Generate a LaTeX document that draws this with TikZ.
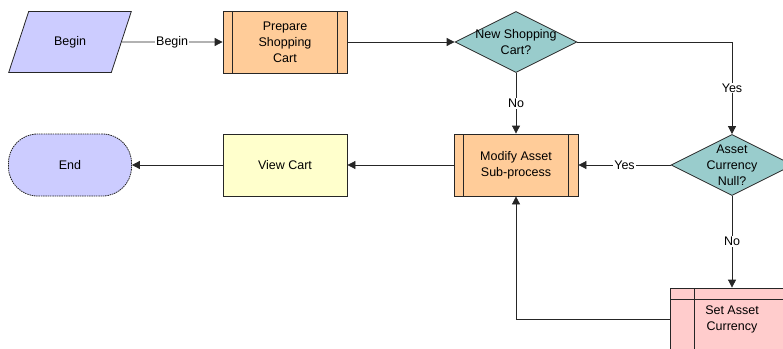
\documentclass[tikz,border=0pt]{standalone}
\usepackage{fontspec}
\setmainfont{Liberation Sans}
\usetikzlibrary{shapes.geometric,arrows.meta}

\definecolor{lavender}{HTML}{CCCCFF}
\definecolor{peach}{HTML}{FFCC99}
\definecolor{teal}{HTML}{99CCCC}
\definecolor{cream}{HTML}{FFFFCC}
\definecolor{rose}{HTML}{FFCCCC}

\tikzset{
  base/.style={draw=black!85, line width=0.8pt, align=center,
    font=\fontsize{12.5}{16}\selectfont},
  io/.style={base, trapezium, trapezium left angle=63, trapezium right angle=117,
    trapezium stretches=true, minimum width=123pt, minimum height=61pt, fill=lavender},
  terminal/.style={base, rectangle, rounded corners=29pt, dash pattern=on 1.5pt off 0.8pt,
    minimum width=123pt, minimum height=62pt, fill=lavender},
  subproc/.style={base, rectangle, minimum width=124pt, minimum height=62pt, fill=peach,
    path picture={
      \draw[line width=0.8pt] ([xshift=9.5pt]path picture bounding box.north west)
        -- ([xshift=9.5pt]path picture bounding box.south west);
      \draw[line width=0.8pt] ([xshift=-9.5pt]path picture bounding box.north east)
        -- ([xshift=-9.5pt]path picture bounding box.south east);}},
  decision/.style={base, diamond, inner sep=0pt, minimum width=122pt,
    minimum height=61pt, fill=teal},
  task/.style={base, rectangle, minimum width=124pt, minimum height=62pt, fill=cream},
  setbox/.style={base, rectangle, minimum width=124pt, minimum height=62pt, fill=rose,
    path picture={
      \draw[line width=0.8pt] ([xshift=24pt]path picture bounding box.north west)
        -- ([xshift=24pt]path picture bounding box.south west);
      \draw[line width=0.8pt] ([yshift=-11pt]path picture bounding box.north west)
        -- ([yshift=-11pt]path picture bounding box.north east);}},
  txt/.style={align=center, font=\fontsize{12.5}{16}\selectfont},
  flow/.style={draw=black!85, line width=0.8pt, ->},
  lbl/.style={fill=white, inner sep=1pt, font=\fontsize{12.5}{16}\selectfont}
}

\begin{document}
\begin{tikzpicture}[x=1pt, y=-1pt, >={Triangle[length=8pt,width=8pt]}]
    \clip (0,0) rectangle (783,348);
    % Top row
    \node[io] (begin) at (70,42) {Begin};
    \node[subproc] (prep) at (285,42) {Prepare\\Shopping\\Cart};
    \node[decision] (newcart) at (516,42) {};
    \node[txt] (newcarttxt) at (newcart) {New Shopping\\Cart?};
    % Middle row
    \node[terminal] (end) at (70,165) {End};
    \node[task] (view) at (285,165) {View Cart};
    \node[subproc] (modify) at (516,165) {Modify Asset\\Sub-process};
    \node[decision] (nullcur) at (732,165) {};
    \node[txt] (nullcurtxt) at (nullcur) {Asset\\Currency\\Null?};
    % Bottom
    \node[setbox] (setcur) at (732,319) {Set Asset\\Currency};
    % Connectors
    \draw[flow] (begin) -- node[lbl] {Begin} (prep);
    \draw[flow] (prep) -- (newcart.west);
    \draw[flow] (newcart.east) -| node[lbl, pos=0.75] {Yes} (nullcur.north);
    \draw[flow] (newcart.south) -- node[lbl] {No} (modify.north);
    \draw[flow] (nullcur.west) -- node[lbl] {Yes} (modify.east);
    \draw[flow] (nullcur.south) -- node[lbl] {No} (setcur.north);
    \draw[flow] (setcur.west) -| (modify.south);
    \draw[flow] (modify) -- (view);
    \draw[flow] (view) -- (end);
\end{tikzpicture}
\end{document}
